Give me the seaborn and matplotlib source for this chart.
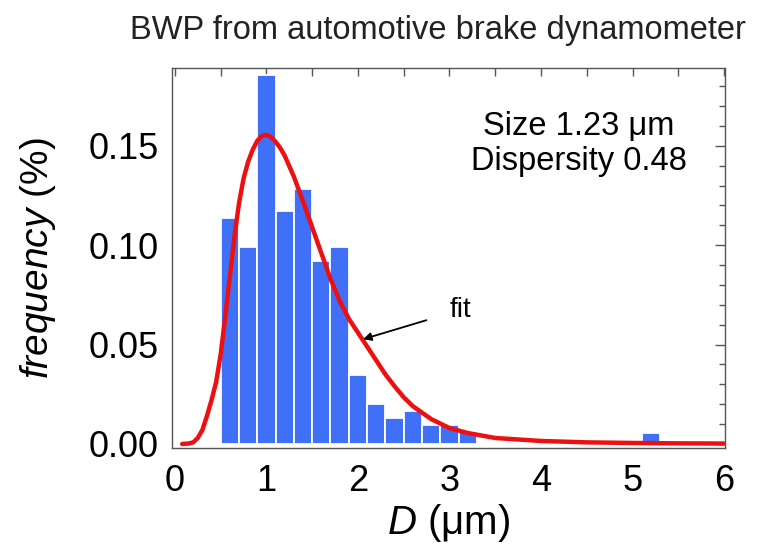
import numpy as np
import pandas as pd
import matplotlib
matplotlib.use("Agg")
import matplotlib.pyplot as plt
from matplotlib.ticker import MultipleLocator, FormatStrFormatter
import seaborn as sns

# Histograma (centros dos bins de 0.2 um) e frequência
BIN_CENTERS = [0.6, 0.8, 1.0, 1.2, 1.4, 1.6, 1.8, 2.0, 2.2, 2.4, 2.6, 2.8, 3.0, 3.2, 5.2]
FREQ = [0.1137, 0.0991, 0.1855, 0.1173, 0.1282, 0.0921, 0.0991, 0.0345,
        0.0200, 0.0130, 0.0164, 0.0095, 0.0095, 0.0059, 0.0055]

# Curva de ajuste
FIT_X = [0.08, 0.15, 0.2, 0.25, 0.3, 0.35, 0.4, 0.45, 0.5, 0.55, 0.6, 0.65, 0.7, 0.75,
         0.8, 0.85, 0.9, 0.95, 1.0, 1.05, 1.1, 1.15, 1.2, 1.3, 1.4, 1.5, 1.6, 1.7,
         1.8, 1.9, 2.0, 2.1, 2.2, 2.3, 2.4, 2.5, 2.6, 2.8, 3.0, 3.2, 3.5, 4.0, 4.5,
         5.0, 5.5, 6.0]
FIT_Y = [0.0, 0.0002, 0.0008, 0.003, 0.007, 0.014, 0.022, 0.031, 0.045, 0.064, 0.084,
         0.104, 0.121, 0.1335, 0.142, 0.148, 0.1525, 0.155, 0.1555, 0.1545, 0.152,
         0.149, 0.145, 0.1345, 0.122, 0.109, 0.096, 0.083, 0.072, 0.063, 0.056,
         0.049, 0.042, 0.035, 0.029, 0.0235, 0.019, 0.0125, 0.008, 0.0055, 0.003,
         0.0015, 0.0008, 0.0005, 0.0003, 0.0002]

TITLE = "BWP from automotive brake dynamometer"
STATS_TEXT = "Size 1.23 μm\nDispersity 0.48"

BAR_COLOR = "#4070f8"
LINE_COLOR = "#ee1010"
FRAME_COLOR = "#555555"

sns.set_style("white")
plt.rcParams["font.family"] = ["Liberation Sans", "DejaVu Sans"]
plt.rcParams["mathtext.fontset"] = "custom"
plt.rcParams["mathtext.rm"] = "Liberation Sans"
plt.rcParams["mathtext.it"] = "Liberation Sans:italic"
plt.rcParams["text.color"] = "black"
plt.rcParams["axes.labelcolor"] = "black"

df_hist = pd.DataFrame({"D": BIN_CENTERS, "freq": FREQ})
df_fit = pd.DataFrame({"D": FIT_X, "freq": FIT_Y})

fig = plt.figure(figsize=(7.59, 5.46), dpi=100)
ax = fig.add_axes([0.2262, 0.1789, 0.7290, 0.6960])

edges = [round(0.5 + 0.2 * i, 2) for i in range(25)]
sns.histplot(data=df_hist, x="D", weights="freq", bins=edges, stat="count",
             color=BAR_COLOR, alpha=1, edgecolor="white", linewidth=1.3, ax=ax)
sns.lineplot(data=df_fit, x="D", y="freq", color=LINE_COLOR, linewidth=3.2,
             ax=ax, sort=False, solid_joinstyle="round", solid_capstyle="round")

ax.set_xlim(-0.035, 6.01)
ax.set_ylim(-0.0022, 0.189)

ax.xaxis.set_major_locator(MultipleLocator(1))
ax.xaxis.set_minor_locator(MultipleLocator(0.5))
ax.yaxis.set_major_locator(MultipleLocator(0.05))
ax.yaxis.set_minor_locator(MultipleLocator(0.01))
ax.yaxis.set_major_formatter(FormatStrFormatter("%.2f"))

ax.tick_params(which="both", direction="in", top=True, right=True,
               color=FRAME_COLOR, width=1, labelsize=26, labelcolor="black")
ax.tick_params(axis="y", which="major", length=7, pad=9.5)
ax.tick_params(axis="y", which="minor", length=4)
ax.tick_params(axis="x", which="both", length=6, pad=11.5)

for sp in ax.spines.values():
    sp.set_color(FRAME_COLOR)
    sp.set_linewidth(1)
    sp.set_visible(True)

ax.set_xlabel(r"$\it{D}$ (μm)", fontsize=29, labelpad=2)
ax.set_ylabel(r"$\it{frequency}$ (%)", fontsize=28, labelpad=22)

ax.text(0.736, 0.801, STATS_TEXT, transform=ax.transAxes, ha="center", va="center",
        fontsize=23.5, linespacing=1.15)

ax.annotate("fit", xy=(2.056, 0.0527), xytext=(3.12, 0.0674), fontsize=20,
            ha="center", va="center",
            arrowprops=dict(arrowstyle="-|>", color="black", lw=1.3,
                            shrinkA=15, shrinkB=0, mutation_scale=12))

fig.text(0.5764, 0.945, TITLE, ha="center", va="center", fontsize=23.5, color="#222222")

fig.savefig("out.png", dpi=100)
